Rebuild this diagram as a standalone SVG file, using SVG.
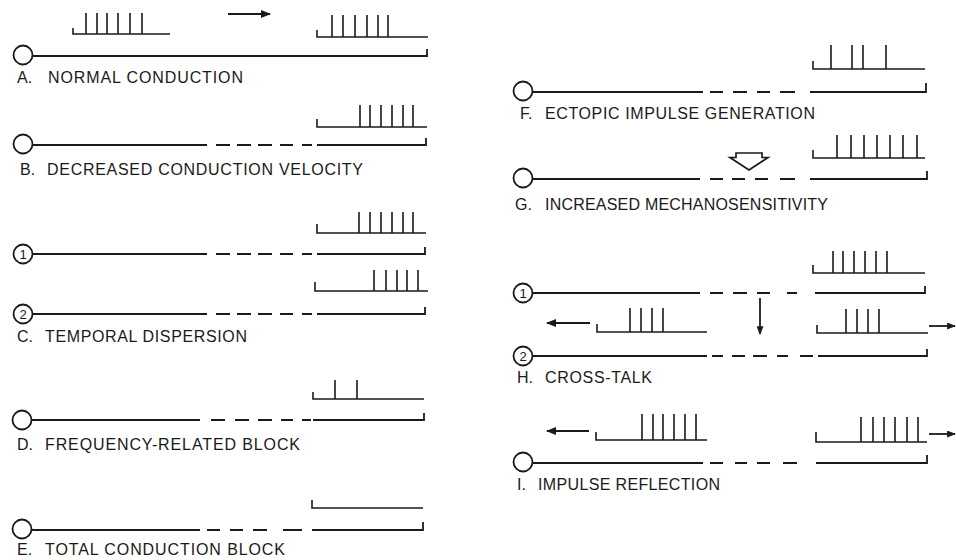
<svg xmlns="http://www.w3.org/2000/svg" width="956" height="560" viewBox="0 0 956 560">
<style>
.ax{fill:none;stroke:#1a1a1a;stroke-width:1.8;stroke-linecap:butt}
.sp{fill:none;stroke:#1a1a1a;stroke-width:1.6}
.ci{fill:#fff;stroke:#1a1a1a;stroke-width:1.8}
.lbl{font-family:"Liberation Sans",Arial,sans-serif;font-size:16px;fill:#1a1a1a}
.num{font-family:"Liberation Sans",Arial,sans-serif;font-size:13px;fill:#1a1a1a;text-anchor:middle}
.arr{fill:none;stroke:#1a1a1a;stroke-width:1.8}
</style>
<defs>
<marker id="ah" viewBox="0 0 10 8" refX="9" refY="4" markerWidth="11" markerHeight="8" markerUnits="userSpaceOnUse" orient="auto">
<path d="M0,0 L10,4 L0,8 z" fill="#1a1a1a"/>
</marker>
<marker id="ahs" viewBox="0 0 10 8" refX="9" refY="4" markerWidth="9" markerHeight="7" markerUnits="userSpaceOnUse" orient="auto">
<path d="M0,0 L10,4 L0,8 z" fill="#1a1a1a"/>
</marker>
</defs>
<rect width="956" height="560" fill="#fff"/>

<g id="panelA">
<path class="sp" d="M73,28 V34 H170 M86,34 V13 M97,34 V13 M107,34 V13 M118,34 V13 M130,34 V13 M142,34 V13"/>
<path class="sp" d="M317,30 V37 H428 M332,37 V15 M343,37 V15 M355,37 V15 M367,37 V15 M378,37 V15 M388,37 V15"/>
<circle class="ci" cx="23" cy="55" r="9.5"/>
<path class="ax" d="M32.5,56 H427 V49"/>
<text class="lbl" x="17" y="83">A.</text>
<text class="lbl" x="48" y="83" textLength="195" lengthAdjust="spacing">NORMAL CONDUCTION</text>
</g>

<g id="panelB">
<path class="sp" d="M317,119 V127 H427 M360,127 V105 M370,127 V105 M381,127 V105 M392,127 V105 M403,127 V105 M413,127 V105"/>
<circle class="ci" cx="23" cy="144" r="9.5"/>
<path class="ax" d="M32.5,145 H207 M216,145 H230 M237,145 H251 M258,145 H272 M280,145 H293 M302,145 H312 M317,145 H426 V138"/>
<text class="lbl" x="20" y="175">B.</text>
<text class="lbl" x="47" y="175" textLength="316" lengthAdjust="spacing">DECREASED CONDUCTION VELOCITY</text>
</g>

<g id="panelC">
<path class="sp" d="M317,224 V233 H426 M359,233 V212 M370,233 V212 M381,233 V212 M392,233 V212 M403,233 V212 M413,233 V212"/>
<circle class="ci" cx="23" cy="254" r="9.5"/>
<text class="num" x="23" y="258.5">1</text>
<path class="ax" d="M32.5,254 H207 M216,254 H230 M237,254 H251 M258,254 H272 M280,254 H293 M302,254 H312 M317,254 H425 V247"/>
<path class="sp" d="M315,282 V291 H428 M374,291 V270 M386,291 V270 M397,291 V270 M407,291 V270 M418,291 V270"/>
<circle class="ci" cx="23" cy="314" r="9.5"/>
<text class="num" x="23" y="318.5">2</text>
<path class="ax" d="M32.5,314 H207 M216,314 H230 M237,314 H251 M258,314 H272 M280,314 H293 M302,314 H312 M317,314 H425 V307"/>
<text class="lbl" x="17" y="342">C.</text>
<text class="lbl" x="45" y="342" textLength="202" lengthAdjust="spacing">TEMPORAL DISPERSION</text>
</g>

<g id="panelD">
<path class="sp" d="M313,392 V399 H424 M335,399 V380 M357,399 V380"/>
<circle class="ci" cx="22" cy="420" r="9.5"/>
<path class="ax" d="M31.5,420 H200 M211,420 H225 M235,420 H249 M258,420 H272 M281,420 H293 M302,420 H311 M313,420 H424 V413"/>
<text class="lbl" x="17" y="450">D.</text>
<text class="lbl" x="45" y="450" textLength="255" lengthAdjust="spacing">FREQUENCY-RELATED BLOCK</text>
</g>

<g id="panelE">
<path class="sp" d="M312,500 V508 H423"/>
<circle class="ci" cx="22" cy="529" r="9.5"/>
<path class="ax" d="M31.5,530 H200 M207,530 H220 M230,530 H243 M253,530 H267 M283,530 H302 M312,530 H423 V522"/>
<text class="lbl" x="17" y="555">E.</text>
<text class="lbl" x="45" y="555" textLength="240" lengthAdjust="spacing">TOTAL CONDUCTION BLOCK</text>
</g>

<g id="panelF">
<path class="sp" d="M813,61 V69 H925 M831,69 V45 M852,69 V45 M863,69 V45 M886,69 V45"/>
<circle class="ci" cx="523" cy="91" r="9.5"/>
<path class="ax" d="M532.5,92 H703 M710,92 H723 M733,92 H747 M757,92 H770 M780,92 H795 M810,92 H926 V83"/>
<text class="lbl" x="520" y="119">F.</text>
<text class="lbl" x="545" y="119" textLength="270" lengthAdjust="spacing">ECTOPIC IMPULSE GENERATION</text>
</g>

<g id="panelG">
<path class="sp" d="M813,150 V158 H925 M837,158 V135 M851,158 V135 M864,158 V135 M877,158 V135 M890,158 V135 M903,158 V135 M917,158 V135"/>
<polygon points="736,153 762,153 762,157.5 768,157.5 749,170 730,157.5 736,157.5" fill="#fff" stroke="#1a1a1a" stroke-width="1.7" stroke-linejoin="miter"/>
<circle class="ci" cx="523" cy="178" r="9.5"/>
<path class="ax" d="M532.5,179 H700 M710,179 H723 M732,179 H745 M755,179 H768 M780,179 H795 M810,179 H927 V171"/>
<text class="lbl" x="515" y="210">G.</text>
<text class="lbl" x="545" y="210" textLength="283" lengthAdjust="spacing">INCREASED MECHANOSENSITIVITY</text>
</g>

<g id="panelH">
<path class="sp" d="M813,265 V273 H925 M833,273 V251 M843,273 V251 M854,273 V251 M865,273 V251 M876,273 V251 M887,273 V251"/>
<circle class="ci" cx="523" cy="293" r="9.5"/>
<text class="num" x="523" y="297.5">1</text>
<path class="ax" d="M532.5,293 H700 M710,293 H723 M733,293 H747 M757,293 H770 M787,293 H797 M815,293 H925 V286"/>
<path class="sp" d="M597,324 V332 H707 M630,332 V308 M641,332 V308 M652,332 V308 M663,332 V308"/>
<path class="sp" d="M817,325 V333 H928 M846,333 V309 M857,333 V309 M868,333 V309 M879,333 V309"/>
<circle class="ci" cx="523" cy="356" r="9.5"/>
<text class="num" x="523" y="360.5">2</text>
<path class="ax" d="M532.5,356 H707 M712,356 H723 M732,356 H745 M753,356 H767 M777,356 H788 M800,356 H813 M818,356 H927 V349"/>
<text class="lbl" x="517" y="383">H.</text>
<text class="lbl" x="545" y="383" textLength="107" lengthAdjust="spacing">CROSS-TALK</text>
</g>

<g id="panelI">
<path class="sp" d="M596,432 V440 H707 M642,440 V414 M653,440 V414 M663,440 V414 M674,440 V414 M685,440 V414 M696,440 V414"/>
<path class="sp" d="M816,432 V442 H927 M861,442 V417 M873,442 V417 M884,442 V417 M895,442 V417 M907,442 V417 M918,442 V417"/>
<circle class="ci" cx="523" cy="462" r="9.5"/>
<path class="ax" d="M532.5,463 H703 M710,463 H723 M735,463 H747 M757,463 H770 M783,463 H797 M816,463 H927 V455"/>
<text class="lbl" x="517" y="490">I.</text>
<text class="lbl" x="538" y="490" textLength="182" lengthAdjust="spacing">IMPULSE REFLECTION</text>
</g>

<g id="connectors">
<line class="arr" x1="228" y1="14" x2="270" y2="14" marker-end="url(#ah)"/>
<line class="arr" x1="590" y1="323" x2="547" y2="323" marker-end="url(#ah)"/>
<line class="arr" x1="760" y1="298" x2="760" y2="334" marker-end="url(#ahs)"/>
<line class="arr" x1="929" y1="326" x2="955" y2="326" marker-end="url(#ahs)"/>
<line class="arr" x1="589" y1="431" x2="547" y2="431" marker-end="url(#ah)"/>
<line class="arr" x1="929" y1="434" x2="955" y2="434" marker-end="url(#ahs)"/>
</g>
</svg>
